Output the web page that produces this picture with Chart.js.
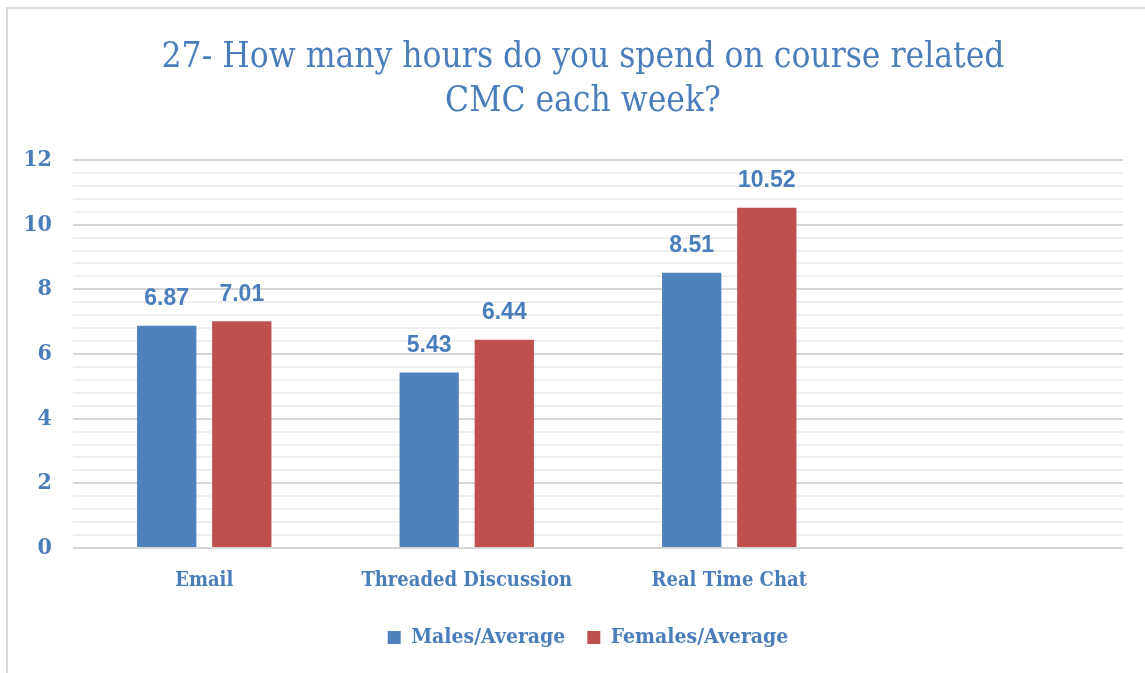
<!DOCTYPE html>
<html>
<head>
<meta charset="utf-8">
<script src="https://cdn.jsdelivr.net/npm/chart.js@4"></script>
<style>
    html, body { margin: 0; padding: 0; background: #fff; overflow: hidden; }
    #wrap {
        position: relative;
        width: 1145px;
        height: 673px;
        overflow: hidden;
    }
    .edge { position: absolute; background: #d9d9d9; }
    #edgeTop { left: 6px; top: 7px; width: 1139px; height: 2px; }
    #edgeLeft { left: 6px; top: 7px; width: 2px; height: 666px; }
    canvas { position: absolute; left: 0; top: 0; }
</style>
</head>
<body>
<div id="wrap">
    <div class="edge" id="edgeTop"></div>
    <div class="edge" id="edgeLeft"></div>
    <canvas id="chart" width="1145" height="673"></canvas>
</div>
<script>
const titleLines = ["27- How many hours do you spend on course related", "CMC each week?"];
const categories = ["Email", "Threaded Discussion", "Real Time Chat", ""];
const males = [6.87, 5.43, 8.51, null];
const females = [7.01, 6.44, 10.52, null];
const seriesNames = ["Males/Average", "Females/Average"];
const yTicks = [0, 2, 4, 6, 8, 10, 12];

const blueText = "#4a7ebb";
const serif = "'DejaVu Serif Condensed', 'DejaVu Serif', serif";

// title drawn by hand so the two lines sit where the reference has them
const titlePlugin = {
    id: "titleLines",
    afterDraw(chart) {
        const ctx = chart.ctx;
        ctx.save();
        ctx.fillStyle = blueText;
        ctx.font = "35px " + serif;
        ctx.textAlign = "center";
        ctx.textBaseline = "alphabetic";
        ctx.fillText(titleLines[0], 583, 67);
        ctx.fillText(titleLines[1], 583, 111);
        ctx.restore();
    }
};

// y labels: only the major ticks, placed through the y scale
const yLabelPlugin = {
    id: "yLabels",
    afterDraw(chart) {
        const ctx = chart.ctx;
        const y = chart.scales.y;
        ctx.save();
        ctx.fillStyle = blueText;
        ctx.font = "bold 23px " + serif;
        ctx.textAlign = "right";
        ctx.textBaseline = "middle";
        yTicks.forEach(v => {
            ctx.fillText(String(v), 52, y.getPixelForValue(v));
        });
        ctx.restore();
    }
};

// value labels above each bar
const valuePlugin = {
    id: "values",
    afterDatasetsDraw(chart) {
        const ctx = chart.ctx;
        ctx.save();
        ctx.fillStyle = blueText;
        ctx.font = "bold 23px 'Liberation Sans', sans-serif";
        ctx.textAlign = "center";
        ctx.textBaseline = "middle";
        chart.data.datasets.forEach((ds, i) => {
            chart.getDatasetMeta(i).data.forEach((bar, j) => {
                if (ds.data[j] == null) return;
                ctx.fillText(ds.data[j].toFixed(2), bar.x, bar.y - 27);
            });
        });
        ctx.restore();
    }
};

function isMajor(v) {
    return yTicks.some(t => Math.abs(t - v) < 1e-6);
}

new Chart(document.getElementById("chart"), {
    type: "bar",
    data: {
        labels: categories,
        datasets: [
            {
                label: seriesNames[0],
                data: males,
                backgroundColor: "#4f81bd",
                categoryPercentage: 0.572,
                barPercentage: 0.79
            },
            {
                label: seriesNames[1],
                data: females,
                backgroundColor: "#c0504d",
                categoryPercentage: 0.572,
                barPercentage: 0.79
            }
        ]
    },
    options: {
        responsive: false,
        animation: false,
        layout: {
            padding: { left: 53, right: 22, top: 160, bottom: 15 }
        },
        plugins: {
            title: { display: false },
            tooltip: { enabled: false },
            legend: {
                position: "bottom",
                labels: {
                    color: blueText,
                    font: { family: serif, size: 21, weight: "bold" },
                    boxWidth: 13,
                    boxHeight: 13,
                    padding: 22
                }
            }
        },
        scales: {
            x: {
                grid: { display: false },
                border: { display: false },
                ticks: {
                    color: blueText,
                    font: { family: serif, size: 20, weight: "bold" },
                    padding: 12.5,
                    maxRotation: 0
                }
            },
            y: {
                min: 0,
                max: 12,
                afterFit(scale) { scale.width = 20; },
                afterBuildTicks(scale) {
                    const t = [];
                    for (let i = 0; i <= 30; i++) t.push({ value: i * 0.4 });
                    scale.ticks = t;
                },
                border: { display: false },
                grid: {
                    color: c => isMajor(c.tick.value) ? "#d6d6d6" : "#efefef",
                    lineWidth: 2,
                    drawTicks: false
                },
                ticks: { display: false }
            }
        }
    },
    plugins: [titlePlugin, yLabelPlugin, valuePlugin]
});
</script>
</body>
</html>
